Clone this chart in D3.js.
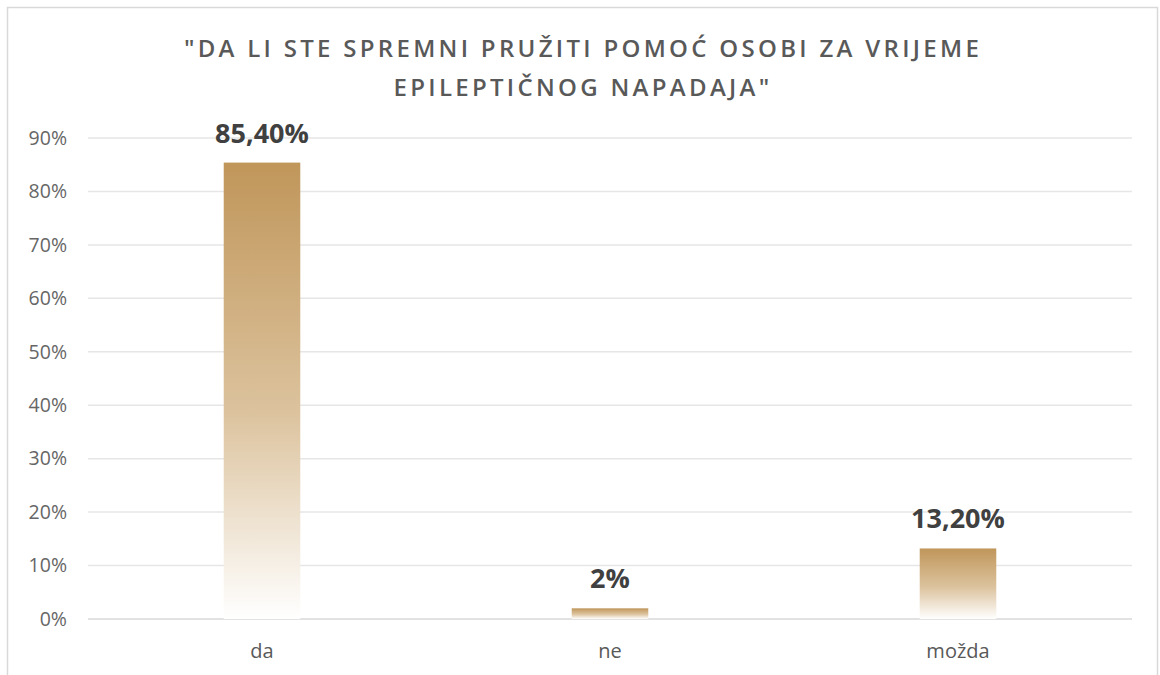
<!DOCTYPE html>
<html>
<meta charset="utf-8">
<head>
    <title>Spremnost na pomoć</title>
</head>
<style>
    body { margin: 0; background: #fff; }
    text { font-family: "Open Sans", sans-serif; }
</style>
<script src="https://cdn.jsdelivr.net/npm/d3@7"></script>
<body>
<div id="chart"></div>
<script>

// data
var categories = ["da", "ne", "možda"]
var values = [85.4, 2, 13.2]
var valueLabels = ["85,40%", "2%", "13,20%"]
var yTicks = [0, 10, 20, 30, 40, 50, 60, 70, 80, 90]
var titleLines = ["\"DA LI STE SPREMNI PRUŽITI POMOĆ OSOBI ZA VRIJEME", "EPILEPTIČNOG NAPADAJA\""]

var W = 1160, H = 675
var margin = {top: 138, right: 28, bottom: 56, left: 88}
var width = W - margin.left - margin.right,
    height = H - margin.top - margin.bottom

var svg = d3.select("#chart").append("svg")
    .attr("width", W)
    .attr("height", H)

// chart frame
svg.append("rect")
    .attr("x", 7.5).attr("y", 7.5)
    .attr("width", 1150).attr("height", 700)
    .attr("fill", "none")
    .attr("stroke", "#d9d9d9")
    .attr("stroke-width", 1.5)

// gradient: gold at top fading to white at bottom
var grad = svg.append("defs").append("linearGradient")
    .attr("id", "barGrad")
    .attr("x1", 0).attr("y1", 0).attr("x2", 0).attr("y2", 1)
grad.append("stop").attr("offset", "0%").attr("stop-color", "#c0965a")
grad.append("stop").attr("offset", "55%").attr("stop-color", "#dcc39e")
grad.append("stop").attr("offset", "100%").attr("stop-color", "#ffffff")

// title
svg.selectAll(".title")
    .data(titleLines).enter()
    .append("text")
    .attr("x", 583)
    .attr("y", function(d, i) { return 57 + i * 39 })
    .attr("text-anchor", "middle")
    .style("font-size", "24px")
    .style("font-weight", "600")
    .style("letter-spacing", "3.3px")
    .style("fill", "#595959")
    .text(function(d) { return d })

var g = svg.append("g")
    .attr("transform", "translate(" + margin.left + "," + margin.top + ")")

var y = d3.scaleLinear().domain([0, 90]).range([height, 0])
var x = d3.scaleBand().domain(categories).range([0, width]).padding(0)
var barW = x.bandwidth() * 0.22

// gridlines
g.selectAll(".grid")
    .data(yTicks).enter()
    .append("line")
    .attr("x1", 0).attr("x2", width)
    .attr("y1", function(d) { return y(d) }).attr("y2", function(d) { return y(d) })
    .attr("stroke", function(d) { return d == 0 ? "#d9d9d9" : "#e6e6e6" })
    .attr("stroke-width", 1.5)

// y axis labels
var yAxis = g.append("g")
    .call(d3.axisLeft(y).tickValues(yTicks).tickSize(0).tickPadding(21)
        .tickFormat(function(d) { return d + "%" }))
yAxis.select(".domain").remove()
yAxis.selectAll("text")
    .style("font-family", "'Open Sans', sans-serif")
    .style("font-size", "19.5px")
    .style("fill", "#666666")

// x axis labels
var xAxis = g.append("g")
    .attr("transform", "translate(0," + height + ")")
    .call(d3.axisBottom(x).tickSize(0).tickPadding(25))
xAxis.select(".domain").remove()
xAxis.selectAll("text")
    .style("font-family", "'Open Sans', sans-serif")
    .style("font-size", "20px")
    .style("fill", "#595959")

// bars
g.selectAll(".bar")
    .data(values).enter()
    .append("rect")
    .attr("x", function(d, i) { return x(categories[i]) + x.bandwidth() / 2 - barW / 2 })
    .attr("y", function(d) { return y(d) })
    .attr("width", barW)
    .attr("height", function(d) { return height - y(d) })
    .attr("fill", "url(#barGrad)")

// value labels
g.selectAll(".lbl")
    .data(values).enter()
    .append("text")
    .attr("x", function(d, i) { return x(categories[i]) + x.bandwidth() / 2 })
    .attr("y", function(d) { return y(d) - 20 })
    .attr("text-anchor", "middle")
    .style("font-size", "27px")
    .style("font-weight", "700")
    .style("fill", "#404040")
    .text(function(d, i) { return valueLabels[i] })

</script>
</body>
</html>
